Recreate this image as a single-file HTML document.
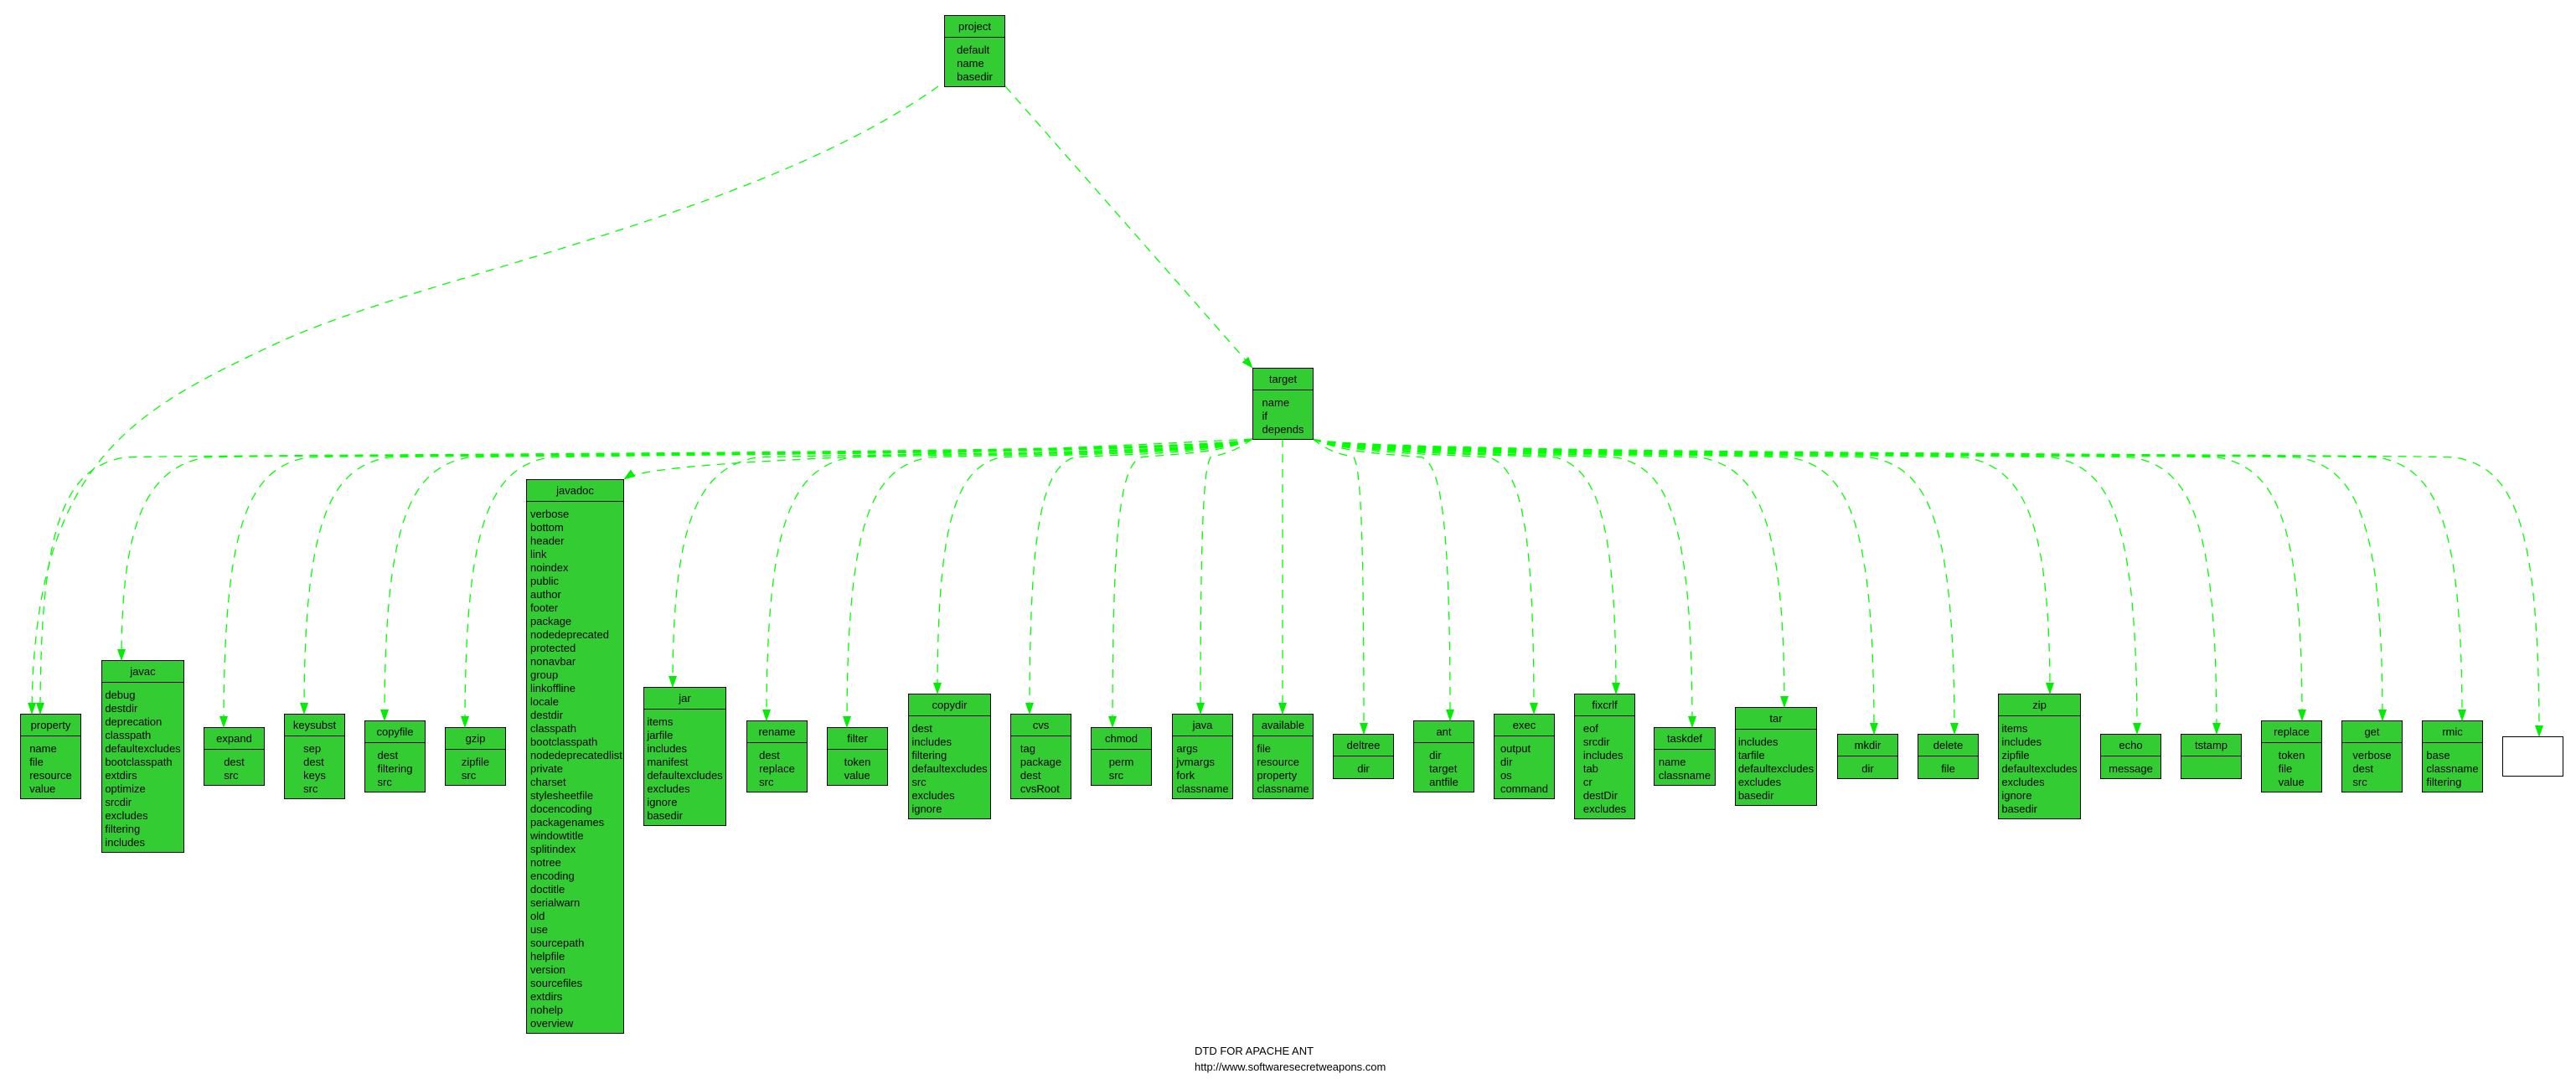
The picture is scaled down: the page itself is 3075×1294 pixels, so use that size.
<!DOCTYPE html>
<html><head><meta charset="utf-8"><style>
html,body{margin:0;padding:0;background:#fff}
body{width:3075px;height:1294px;position:relative;overflow:hidden;font-family:"Liberation Sans",Arial,sans-serif;font-size:13px;color:#000}
.b{position:absolute;box-sizing:border-box;background:#33cc33;border:1.5px solid #000}
.h{height:26px;line-height:26px;text-align:center;border-bottom:1.5px solid #000;box-sizing:border-box}
.r{display:flex;justify-content:center;padding-top:7px;line-height:16px}
.r div{text-align:left;white-space:nowrap}
svg{position:absolute;left:0;top:0}
.ft{position:absolute;left:1426px;font-size:13px;line-height:16px}
</style></head><body>
<svg width="3075" height="1294">
<defs><marker id="a" markerWidth="14" markerHeight="10" refX="13" refY="5" orient="auto" markerUnits="userSpaceOnUse"><path d="M0,0 L14,5 L0,10 z" fill="#00ee00"/></marker></defs>
<g fill="none" stroke="#00ff00" stroke-width="1.3" stroke-dasharray="10 8" marker-end="url(#a)">
<path d="M1200 103 L1495 439"/>
<path d="M1120 103 C900 260 500 330 330 410 S40 550 38 852"/>
<path d="M1495 524 C1455 542 248 542 148 546 C78 559 48 624 48 852"/>
<path d="M1495 524 C1455 542 345 542 245 546 C175 559 145 624 145 788"/>
<path d="M1495 524 C1455 542 467 542 367 546 C297 559 267 624 267 868"/>
<path d="M1495 524 C1455 542 563 542 463 546 C393 559 363 624 363 852"/>
<path d="M1495 524 C1455 542 659 542 559 546 C489 559 459 624 459 860"/>
<path d="M1495 524 C1455 542 755 542 655 546 C585 559 555 624 555 868"/>
<path d="M1495 524 C1120 544 780 548 745 572"/>
<path d="M1495 524 C1455 542 1003 542 903 546 C833 559 803 624 803 820"/>
<path d="M1495 524 C1455 542 1115 542 1015 546 C945 559 915 624 915 860"/>
<path d="M1495 524 C1455 542 1205 542 1108 546 C1040 559 1011 624 1011 868"/>
<path d="M1495 524 C1455 542 1269 542 1194 546 C1141 559 1119 624 1119 828"/>
<path d="M1495 524 C1455 542 1335 542 1282 546 C1245 559 1229 624 1229 852"/>
<path d="M1495 524 C1455 542 1394 542 1361 546 C1338 559 1328 624 1328 868"/>
<path d="M1495 524 C1470 542 1457 542 1445 546 C1437 559 1433 624 1433 852"/>
<path d="M1531 524 L1531 852"/>
<path d="M1567 524 C1590 542 1604 542 1616 546 C1624 559 1628 624 1628 876"/>
<path d="M1567 524 C1607 542 1665 542 1698 546 C1721 559 1731 624 1731 860"/>
<path d="M1567 524 C1607 542 1725 542 1778 546 C1815 559 1831 624 1831 852"/>
<path d="M1567 524 C1607 542 1785 542 1857 546 C1907 559 1929 624 1929 828"/>
<path d="M1567 524 C1607 542 1838 542 1929 546 C1993 559 2020 624 2020 868"/>
<path d="M1567 524 C1607 542 1930 542 2030 546 C2100 559 2130 624 2130 844"/>
<path d="M1567 524 C1607 542 2037 542 2137 546 C2207 559 2237 624 2237 876"/>
<path d="M1567 524 C1607 542 2133 542 2233 546 C2303 559 2333 624 2333 876"/>
<path d="M1567 524 C1607 542 2247 542 2347 546 C2417 559 2447 624 2447 828"/>
<path d="M1567 524 C1607 542 2351 542 2451 546 C2521 559 2551 624 2551 876"/>
<path d="M1567 524 C1607 542 2446 542 2546 546 C2616 559 2646 624 2646 876"/>
<path d="M1567 524 C1607 542 2548 542 2648 546 C2718 559 2748 624 2748 860"/>
<path d="M1567 524 C1607 542 2644 542 2744 546 C2814 559 2844 624 2844 860"/>
<path d="M1567 524 C1607 542 2739 542 2839 546 C2909 559 2939 624 2939 860"/>
<path d="M1567 524 C1607 542 2831 542 2931 546 C3001 559 3031 624 3031 879"/>
</g></svg>

<div class="b" style="left:1127px;top:18px;width:73px;height:86px"><div class="h">project</div><div class="r"><div>default<br>name<br>basedir</div></div></div>
<div class="b" style="left:1495px;top:439px;width:73px;height:86px"><div class="h">target</div><div class="r"><div>name<br>if<br>depends</div></div></div>

<div class="b" style="left:24px;top:852px;width:73px;height:102px"><div class="h">property</div><div class="r"><div>name<br>file<br>resource<br>value</div></div></div>
<div class="b" style="left:121px;top:788px;width:99px;height:230px"><div class="h">javac</div><div class="r"><div>debug<br>destdir<br>deprecation<br>classpath<br>defaultexcludes<br>bootclasspath<br>extdirs<br>optimize<br>srcdir<br>excludes<br>filtering<br>includes</div></div></div>
<div class="b" style="left:243px;top:868px;width:73px;height:70px"><div class="h">expand</div><div class="r"><div>dest<br>src</div></div></div>
<div class="b" style="left:339px;top:852px;width:73px;height:102px"><div class="h">keysubst</div><div class="r"><div>sep<br>dest<br>keys<br>src</div></div></div>
<div class="b" style="left:435px;top:860px;width:73px;height:86px"><div class="h">copyfile</div><div class="r"><div>dest<br>filtering<br>src</div></div></div>
<div class="b" style="left:531px;top:868px;width:73px;height:70px"><div class="h">gzip</div><div class="r"><div>zipfile<br>src</div></div></div>
<div class="b" style="left:628px;top:572px;width:117px;height:662px"><div class="h">javadoc</div><div class="r" style="justify-content:flex-start;padding-left:4px"><div>verbose<br>bottom<br>header<br>link<br>noindex<br>public<br>author<br>footer<br>package<br>nodedeprecated<br>protected<br>nonavbar<br>group<br>linkoffline<br>locale<br>destdir<br>classpath<br>bootclasspath<br>nodedeprecatedlist<br>private<br>charset<br>stylesheetfile<br>docencoding<br>packagenames<br>windowtitle<br>splitindex<br>notree<br>encoding<br>doctitle<br>serialwarn<br>old<br>use<br>sourcepath<br>helpfile<br>version<br>sourcefiles<br>extdirs<br>nohelp<br>overview</div></div></div>
<div class="b" style="left:768px;top:820px;width:99px;height:166px"><div class="h">jar</div><div class="r"><div>items<br>jarfile<br>includes<br>manifest<br>defaultexcludes<br>excludes<br>ignore<br>basedir</div></div></div>
<div class="b" style="left:891px;top:860px;width:73px;height:86px"><div class="h">rename</div><div class="r"><div>dest<br>replace<br>src</div></div></div>
<div class="b" style="left:987px;top:868px;width:73px;height:70px"><div class="h">filter</div><div class="r"><div>token<br>value</div></div></div>
<div class="b" style="left:1084px;top:828px;width:99px;height:150px"><div class="h">copydir</div><div class="r"><div>dest<br>includes<br>filtering<br>defaultexcludes<br>src<br>excludes<br>ignore</div></div></div>
<div class="b" style="left:1206px;top:852px;width:73px;height:102px"><div class="h">cvs</div><div class="r"><div>tag<br>package<br>dest<br>cvsRoot</div></div></div>
<div class="b" style="left:1302px;top:868px;width:73px;height:70px"><div class="h">chmod</div><div class="r"><div>perm<br>src</div></div></div>
<div class="b" style="left:1399px;top:852px;width:73px;height:102px"><div class="h">java</div><div class="r"><div>args<br>jvmargs<br>fork<br>classname</div></div></div>
<div class="b" style="left:1495px;top:852px;width:73px;height:102px"><div class="h">available</div><div class="r"><div>file<br>resource<br>property<br>classname</div></div></div>
<div class="b" style="left:1591px;top:876px;width:73px;height:54px"><div class="h">deltree</div><div class="r"><div>dir</div></div></div>
<div class="b" style="left:1687px;top:860px;width:73px;height:86px"><div class="h">ant</div><div class="r"><div>dir<br>target<br>antfile</div></div></div>
<div class="b" style="left:1783px;top:852px;width:73px;height:102px"><div class="h">exec</div><div class="r"><div>output<br>dir<br>os<br>command</div></div></div>
<div class="b" style="left:1879px;top:828px;width:73px;height:150px"><div class="h">fixcrlf</div><div class="r"><div>eof<br>srcdir<br>includes<br>tab<br>cr<br>destDir<br>excludes</div></div></div>
<div class="b" style="left:1974px;top:868px;width:74px;height:70px"><div class="h">taskdef</div><div class="r"><div>name<br>classname</div></div></div>
<div class="b" style="left:2071px;top:844px;width:98px;height:118px"><div class="h">tar</div><div class="r"><div>includes<br>tarfile<br>defaultexcludes<br>excludes<br>basedir</div></div></div>
<div class="b" style="left:2193px;top:876px;width:73px;height:54px"><div class="h">mkdir</div><div class="r"><div>dir</div></div></div>
<div class="b" style="left:2289px;top:876px;width:73px;height:54px"><div class="h">delete</div><div class="r"><div>file</div></div></div>
<div class="b" style="left:2385px;top:828px;width:99px;height:150px"><div class="h">zip</div><div class="r"><div>items<br>includes<br>zipfile<br>defaultexcludes<br>excludes<br>ignore<br>basedir</div></div></div>
<div class="b" style="left:2507px;top:876px;width:73px;height:54px"><div class="h">echo</div><div class="r"><div>message</div></div></div>
<div class="b" style="left:2603px;top:876px;width:73px;height:54px"><div class="h">tstamp</div><div class="r"><div></div></div></div>
<div class="b" style="left:2699px;top:860px;width:73px;height:86px"><div class="h">replace</div><div class="r"><div>token<br>file<br>value</div></div></div>
<div class="b" style="left:2795px;top:860px;width:73px;height:86px"><div class="h">get</div><div class="r"><div>verbose<br>dest<br>src</div></div></div>
<div class="b" style="left:2891px;top:860px;width:73px;height:86px"><div class="h">rmic</div><div class="r"><div>base<br>classname<br>filtering</div></div></div>
<div class="b" style="left:2987px;top:879px;width:73px;height:48px;background:#fff"></div>

<div class="ft" style="top:1247px">DTD FOR APACHE ANT</div>
<div class="ft" style="top:1266px">http://www.softwaresecretweapons.com</div>
</body></html>
